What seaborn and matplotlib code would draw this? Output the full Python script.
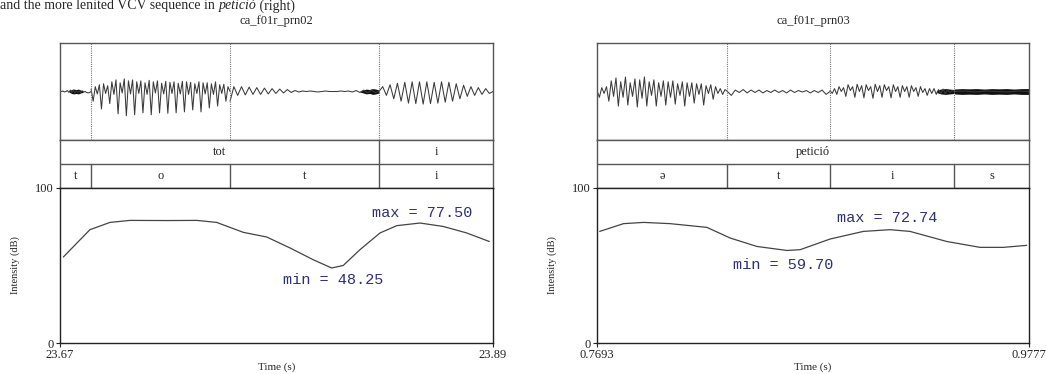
import matplotlib
matplotlib.use("Agg")
import matplotlib.pyplot as plt
import numpy as np
import pandas as pd
import seaborn as sns

# ---- left recording: "tot i" ----
left_title = "ca_f01r_prn02"
left_bounds = [23.67, 23.6858, 23.7564, 23.8321, 23.89]
left_phones = ["t", "o", "t", "i"]
left_word_bounds = [23.67, 23.8321, 23.89]
left_words = ["tot", "i"]
left_ticks = ["23.67", "23.89"]

left_int_time = [23.6717, 23.6852, 23.6954, 23.7056, 23.7242, 23.7395, 23.7496,
                 23.7631, 23.7750, 23.7869, 23.7987, 23.8080, 23.8139, 23.8224,
                 23.8326, 23.8411, 23.8529, 23.8647, 23.8766, 23.8881]
left_int_db = [55.5, 73.1, 77.8, 79.1, 79.0, 79.1, 77.8, 71.4, 68.4, 61.3,
               53.7, 48.4, 50.0, 60.2, 71.0, 75.7, 77.4, 75.2, 71.0, 65.5]
left_max_label = "max = 77.50"
left_min_label = "min = 48.25"

# waveform vertices per phone (amplitude, -1..1)
left_wave_t1 = [0.0, 0.0, 0.01, -0.01, 0.0, 0.02, -0.02, 0.03, -0.02, 0.03, -0.03,
                0.02, -0.02, 0.01, -0.02, 0.01, -0.01, 0.0, -0.02, -0.03, -0.02, 0.0]
left_wave_o = [0.05, -0.2, 0.1, -0.05,
               0.14, -0.36, 0.16, -0.04,
               0.12, -0.25, 0.2, -0.06,
               0.24, -0.46, 0.18, -0.03,
               0.26, -0.5, 0.22, -0.05,
               0.24, -0.48, 0.2, -0.04,
               0.22, -0.44, 0.18, -0.06,
               0.23, -0.48, 0.2, -0.03,
               0.22, -0.44, 0.17, -0.05,
               0.21, -0.45, 0.19, -0.04,
               0.2, -0.44, 0.17, -0.05,
               0.21, -0.42, 0.2, -0.06,
               0.19, -0.38, 0.16, -0.04,
               0.2, -0.42, 0.18, -0.05,
               0.18, -0.34, 0.16, -0.06,
               0.2, -0.3, 0.14, -0.04,
               0.15, -0.2, 0.1, 0.0]
left_wave_t2 = [-0.2, 0.1, -0.08, 0.1, -0.07, 0.09, -0.06, 0.08, -0.06, 0.07,
                -0.05, 0.06, -0.04, 0.05, -0.03, 0.04, -0.02, 0.02, -0.01, 0.01,
                0.0, 0.01, 0.0, -0.01, 0.0, 0.01, 0.0, 0.0, 0.0, 0.01,
                0.0, 0.01, -0.01, 0.02, -0.02, 0.03, -0.03, 0.03, -0.02, 0.0]
left_wave_i = [0.0, 0.1, -0.08, 0.14, -0.15, 0.17, -0.2, 0.19, -0.24, 0.2, -0.25,
               0.2, -0.26, 0.2, -0.25, 0.19, -0.24, 0.2, -0.22, 0.19, -0.2, 0.16,
               -0.15, 0.13, -0.1, 0.1, -0.08, 0.08, -0.06, 0.06, -0.04, 0.0]
left_burst_a_time = [23.6746, 23.6817]
left_burst_a_env = [0.01, 0.04, 0.05, 0.04, 0.05, 0.03, 0.02]
left_burst_b_time = [23.8224, 23.8321]
left_burst_b_env = [0.01, 0.03, 0.05, 0.04, 0.06, 0.05, 0.03]

# ---- right recording: "petició" ----
right_title = "ca_f01r_prn03"
right_bounds = [0.7693, 0.8322, 0.8817, 0.9417, 0.9777]
right_phones = ["ə", "t", "i", "s"]
right_word_bounds = [0.7693, 0.9777]
right_words = ["petició"]
right_ticks = ["0.7693", "0.9777"]

right_int_time = [0.7706, 0.7821, 0.7918, 0.8046, 0.8223, 0.8336, 0.8464, 0.8609,
                  0.8673, 0.8818, 0.8978, 0.9107, 0.9203, 0.9380, 0.9541, 0.9653,
                  0.9766]
right_int_db = [72.0, 77.0, 77.8, 77.0, 74.6, 67.7, 62.3, 59.7, 60.2, 67.1,
                72.0, 73.1, 72.0, 65.5, 61.7, 61.7, 63.0]
right_max_label = "max = 72.74"
right_min_label = "min = 59.70"

right_wave_schwa = [0.02, -0.12, 0.08, -0.04,
                    0.1, -0.2, 0.22, -0.1,
                    0.28, -0.3, 0.2, -0.12,
                    0.3, -0.28, 0.18, -0.1,
                    0.26, -0.32, 0.24, -0.14,
                    0.3, -0.3, 0.2, -0.08,
                    0.24, -0.3, 0.18, -0.1,
                    0.22, -0.28, 0.2, -0.12,
                    0.22, -0.26, 0.16, -0.08,
                    0.2, -0.3, 0.18, -0.1,
                    0.18, -0.24, 0.16, -0.06,
                    0.16, -0.28, 0.12, -0.04,
                    0.14, -0.16, 0.1, -0.04,
                    0.06, -0.06, 0.04, 0.0]
right_wave_t = [0.0, -0.08, 0.03, -0.02, 0.04, -0.03, 0.03, -0.02, 0.03, -0.03,
                0.02, -0.02, 0.03, -0.02, 0.02, -0.03, 0.03, -0.02, 0.02, -0.01,
                0.02, -0.03, 0.02, -0.02, 0.03, -0.06, 0.0]
right_wave_i = [0.02, -0.04, 0.06, -0.06,
                0.1, 0.0, 0.08, -0.1,
                0.14, 0.02, 0.1, -0.12,
                0.15, 0.0, 0.12, -0.13,
                0.14, 0.02, 0.1, -0.14,
                0.15, 0.0, 0.12, -0.12,
                0.14, 0.02, 0.1, -0.13,
                0.14, 0.0, 0.1, -0.12,
                0.12, 0.0, 0.1, -0.12,
                0.12, 0.0, 0.08, -0.1,
                0.1, -0.02, 0.06, -0.08,
                0.06, -0.04, 0.06, -0.06,
                0.04, -0.04, 0.05, -0.05,
                0.04, -0.02, 0.02, 0.0]
right_wave_s = [0.0, 0.01, -0.01, 0.01, 0.0, -0.01, 0.01, 0.0]
right_burst_a_time = [0.9330, 0.9417]
right_burst_a_env = [0.02, 0.05, 0.06, 0.05, 0.04]
right_burst_b_time = [0.9417, 0.9777]
right_burst_b_env = [0.05, 0.06, 0.055, 0.06, 0.05, 0.06, 0.055, 0.06, 0.05, 0.06, 0.06]

caption = "and the more lenited VCV sequence in "
caption_word = "petició"
caption_tail = " (right)"

# ---- drawing ----
sns.set_style("white")
plt.rcParams["font.family"] = ["Liberation Serif", "DejaVu Serif"]

W, H = 1046, 374
fig = plt.figure(figsize=(W / 100, H / 100), dpi=100)

FRAME = "#555555"
WAVE = "#3a3a3a"
NAVY = "#2e2e78"


def rect(x0, y0, x1, y1):
    return [x0 / W, 1 - y1 / H, (x1 - x0) / W, (y1 - y0) / H]


def style_box(ax):
    for s in ax.spines.values():
        s.set_visible(True)
        s.set_color(FRAME)
        s.set_linewidth(1.0)
    ax.set_xticks([])
    ax.set_yticks([])


def draw_panel(x0, x1, title, bounds, phones, word_bounds, words, waves,
               bursts, int_time, int_db, ticks, max_label, max_pos,
               min_label, min_pos):
    t0, t1 = bounds[0], bounds[-1]

    # waveform
    axw = fig.add_axes(rect(x0, 43, x1, 140))
    for (a, b), vals in zip(zip(bounds[:-1], bounds[1:]), waves):
        seg = pd.DataFrame({"t": np.linspace(a, b, len(vals)), "amp": vals})
        sns.lineplot(data=seg, x="t", y="amp", ax=axw, color=WAVE,
                     linewidth=0.75, estimator=None, sort=False)
    for (ta, tb), env in bursts:
        tt = np.linspace(ta, tb, len(env))
        env = np.array(env)
        axw.fill_between(tt, -env, env, color="#111111", linewidth=0)
    for b in bounds[1:-1]:
        axw.axvline(b, color="#777777", linestyle=(0, (1, 1)), linewidth=0.8)
    axw.set_xlim(t0, t1)
    axw.set_ylim(-1, 1)
    axw.set_xlabel("")
    axw.set_ylabel("")
    style_box(axw)
    axw.set_title(title, fontsize=9, pad=14)

    # tiers
    axt = fig.add_axes(rect(x0, 140, x1, 188))
    axt.set_xlim(t0, t1)
    axt.set_ylim(0, 2)
    axt.axhline(1, color=FRAME, linewidth=1.0)
    for b in word_bounds[1:-1]:
        axt.plot([b, b], [1, 2], color=FRAME, linewidth=1.0)
    for b in bounds[1:-1]:
        axt.plot([b, b], [0, 1], color=FRAME, linewidth=1.0)
    for (a, b), w in zip(zip(word_bounds[:-1], word_bounds[1:]), words):
        axt.text((a + b) / 2, 1.5, w, ha="center", va="center", fontsize=9)
    for (a, b), p in zip(zip(bounds[:-1], bounds[1:]), phones):
        axt.text((a + b) / 2, 0.5, p, ha="center", va="center", fontsize=9)
    style_box(axt)

    # intensity
    axi = fig.add_axes(rect(x0, 188, x1, 343))
    df = pd.DataFrame({"Time (s)": int_time, "Intensity (dB)": int_db})
    sns.lineplot(data=df, x="Time (s)", y="Intensity (dB)", ax=axi,
                 color="#444444", linewidth=0.9, estimator=None)
    axi.set_xlim(t0, t1)
    axi.set_ylim(0, 100)
    for s in axi.spines.values():
        s.set_visible(True)
        s.set_color("#222222")
        s.set_linewidth(1.0)
    axi.set_xticks([t0, t1])
    axi.set_xticklabels(ticks)
    axi.set_yticks([0, 100])
    axi.set_yticklabels(["0", "100"])
    axi.tick_params(axis="both", direction="out", length=3, width=0.8,
                    labelsize=9, pad=1.5, colors="#222222", left=True,
                    bottom=True)
    axi.set_xlabel("Time (s)", fontsize=8)
    axi.set_ylabel("Intensity (dB)", fontsize=7.5)
    axi.xaxis.set_label_coords(0.5, -0.125)
    axi.yaxis.set_label_coords(-0.092, 0.5)
    axi.text(max_pos[0], max_pos[1], max_label, family="Liberation Mono",
             fontsize=11, color=NAVY, ha="left", va="center")
    axi.text(min_pos[0], min_pos[1], min_label, family="Liberation Mono",
             fontsize=11, color=NAVY, ha="left", va="center")


draw_panel(60, 493, left_title, left_bounds, left_phones, left_word_bounds,
           left_words, [left_wave_t1, left_wave_o, left_wave_t2, left_wave_i],
           [(left_burst_a_time, left_burst_a_env), (left_burst_b_time, left_burst_b_env)],
           left_int_time, left_int_db, left_ticks,
           left_max_label, (23.8285, 84.0), left_min_label, (23.7833, 40.8))

draw_panel(597, 1029, right_title, right_bounds, right_phones, right_word_bounds,
           right_words, [right_wave_schwa, right_wave_t, right_wave_i, right_wave_s],
           [(right_burst_a_time, right_burst_a_env), (right_burst_b_time, right_burst_b_env)],
           right_int_time, right_int_db, right_ticks,
           right_max_label, (0.8850, 80.8), right_min_label, (0.8351, 50.5))

# caption line at the top of the image
fig.canvas.draw()
r = fig.canvas.get_renderer()
y_cap = 1 - 9.5 / H
t_a = fig.text(0.0, y_cap, caption, fontsize=10, va="baseline", ha="left")
x_next = t_a.get_window_extent(r).x1 / W
t_b = fig.text(x_next, y_cap, caption_word, fontsize=10, va="baseline",
               ha="left", style="italic")
x_next = t_b.get_window_extent(r).x1 / W
fig.text(x_next, y_cap, caption_tail, fontsize=10, va="baseline", ha="left")

fig.savefig("out.png", dpi=100)
